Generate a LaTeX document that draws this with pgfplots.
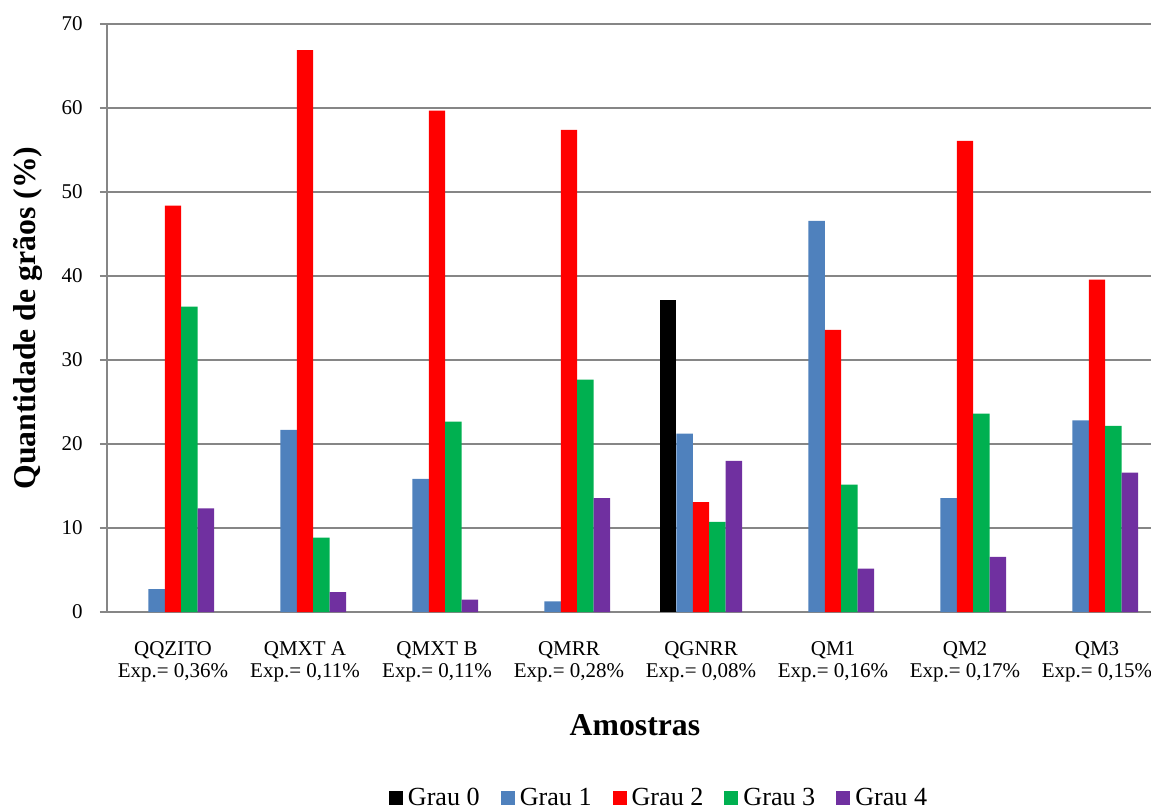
\documentclass[border=0pt]{standalone}
\usepackage{fontspec}
\setmainfont{Liberation Serif}
\usepackage{pgfplots}
\pgfplotsset{compat=1.18}
\definecolor{g1}{RGB}{79,129,189}
\definecolor{g2}{RGB}{255,0,0}
\definecolor{g3}{RGB}{0,176,80}
\definecolor{g4}{RGB}{112,48,160}
\definecolor{gridgray}{RGB}{134,134,134}
\begin{document}
\begin{tikzpicture}
\begin{axis}[
  scale only axis, width=783pt, height=441pt,
  xmin=-0.5, xmax=7.409, ymin=0, ymax=70,
  ybar=0pt, bar width=12.3pt,
  axis x line*=bottom, axis y line*=left,
  axis line style={-, draw=gridgray, line width=1.1pt},
  ymajorgrids, grid style={draw=gridgray, line width=1.1pt},
  ytick={0,10,...,70},
  tick align=outside, major tick length=5.25pt,
  ytick style={draw=gridgray, line width=1.1pt},
  xtick={0,1,2,3,4,5,6,7}, xtick style={draw=none},
  xticklabels={{QQZITO\\Exp.= 0,36\%},{QMXT A\\Exp.= 0,11\%},{QMXT B\\Exp.= 0,11\%},{QMRR\\Exp.= 0,28\%},{QGNRR\\Exp.= 0,08\%},{QM1\\Exp.= 0,16\%},{QM2\\Exp.= 0,17\%},{QM3\\Exp.= 0,15\%}},
  xticklabel style={align=center, font=\fontsize{15.75}{17}\selectfont, inner sep=0pt, anchor=north, yshift=-16.6pt},
  yticklabel style={font=\fontsize{15.75}{18}\selectfont, inner sep=0pt, anchor=east, xshift=-12.75pt},
  /pgf/number format/assume math mode=true,
  xlabel={Amostras}, ylabel={Quantidade de grãos (\%)},
  xlabel style={font=\bfseries\fontsize{23.8}{28}\selectfont, at={(axis description cs:0.5057,-0.1922)}, anchor=center},
  ylabel style={font=\bfseries\fontsize{23.8}{28}\selectfont, at={(axis description cs:-0.0761,0.5)}, anchor=center},
  legend columns=5,
  legend image code/.code={\fill[#1] (0pt,-5.25pt) rectangle (10.5pt,5.25pt);},
  legend style={at={(axis description cs:0.5278,-0.316)}, anchor=center, draw=none,
    font=\fontsize{19.6}{22}\selectfont, nodes={inner sep=0pt},
    /tikz/every odd column/.style={column sep=3.75pt},
    /tikz/every even column/.style={column sep=15.75pt}},
]
\addplot[fill=black, draw=none] coordinates {(4,37.14)};
\addplot[fill=g1, draw=none] coordinates {(0,2.72) (1,21.68) (2,15.85) (3,1.26) (4,21.24) (5,46.57) (6,13.56) (7,22.8)};
\addplot[fill=g2, draw=none] coordinates {(0,48.37) (1,66.9) (2,59.7) (3,57.4) (4,13.08) (5,33.6) (6,56.1) (7,39.57)};
\addplot[fill=g3, draw=none] coordinates {(0,36.36) (1,8.85) (2,22.65) (3,27.66) (4,10.74) (5,15.17) (6,23.63) (7,22.17)};
\addplot[fill=g4, draw=none] coordinates {(0,12.35) (1,2.38) (2,1.46) (3,13.56) (4,17.99) (5,5.15) (6,6.56) (7,16.58)};
\legend{Grau 0,Grau 1,Grau 2,Grau 3,Grau 4}
\end{axis}
\pgfresetboundingbox
\path[use as bounding box] (-80.25pt,-148.5pt) rectangle (783pt,459pt);
\end{tikzpicture}
\end{document}
